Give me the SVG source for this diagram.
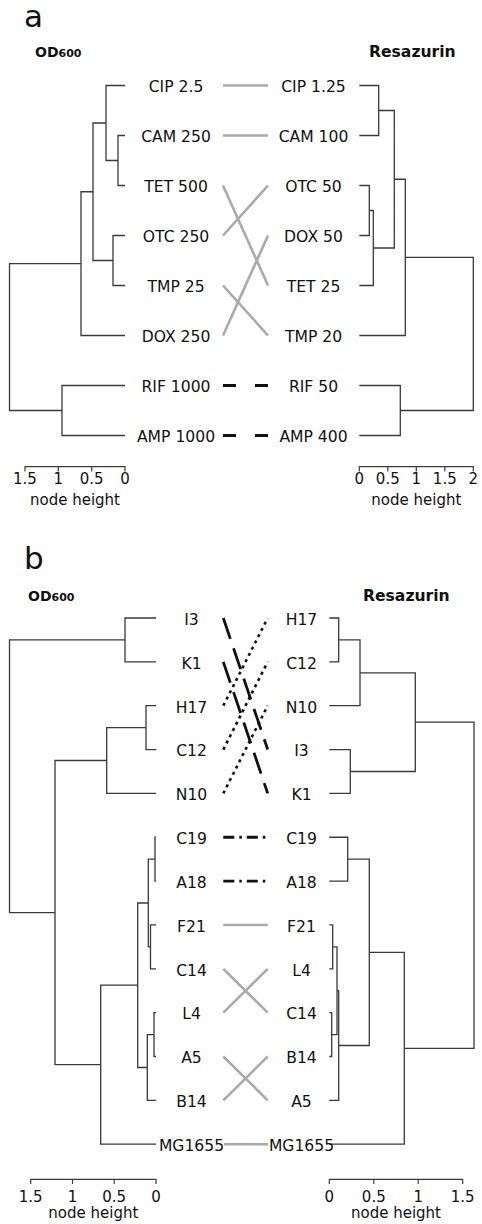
<svg xmlns="http://www.w3.org/2000/svg" width="482" height="1224" viewBox="0 0 482 1224">
  <style>
    text { font-family: "DejaVu Sans", "Liberation Sans", sans-serif; fill: #111; }
    .lab { font-size: 15.6px; text-anchor: middle; }
    .tick { font-size: 15px; text-anchor: middle; }
    .panel { font-size: 31px; }
    .ttl { font-weight: bold; }
    .tree { fill: none; stroke: #3a3a3a; stroke-width: 1.3; }
    .axis { fill: none; stroke: #3a3a3a; stroke-width: 1.2; }
    .grey { stroke: #aaaaaa; stroke-width: 2.6; fill: none; }
    .dash { stroke: #111; stroke-width: 3; fill: none; stroke-dasharray: 13 19; }
    .ldash { stroke: #111; stroke-width: 2.8; fill: none; stroke-dasharray: 22 10; }
    .dot { stroke: #111; stroke-width: 2.6; fill: none; stroke-dasharray: 3 4; }
    .dotdash { stroke: #111; stroke-width: 2.8; fill: none; stroke-dasharray: 11 5 2.5 5; }
  </style>

  <!-- panel a -->
  <g id="panel-a-title">
    <text class="panel" x="24" y="27">a</text>
    <text class="ttl" x="35" y="57" font-size="14">OD<tspan font-size="11">600</tspan></text>
    <text class="ttl" x="369" y="57" font-size="15.6">Resazurin</text>
  </g>

  <g id="tree-a-left">
    <path class="tree" d="M125 135.5 H118 V185.5 H125 M118 160.5 H106 V85.5 H125 M106 123 H93 V260.5 H113 M125 235.5 H113 V285.5 H125 M93 191.75 H81 V335.5 H125 M81 263.6 H9.5 V410.5 H62 M125 385.5 H62 V435.5 H125"/>
  </g>
  <g id="tree-a-right">
    <path class="tree" d="M359.3 85.5 H378.7 V135.5 H359.3 M359.3 185.5 H369.3 V235.5 H359.3 M369.3 210.5 H373.3 V285.5 H359.3 M378.7 110.5 H394.3 V248 H373.3 M394.3 179.25 H405.3 V335.5 H359.3 M359.3 385.5 H400.3 V435.5 H359.3 M405.3 257.4 H473.3 V410.5 H400.3"/>
  </g>

  <g id="labels-a-left" class="lab">
    <text x="176" y="92.3">CIP 2.5</text>
    <text x="176" y="142.3">CAM 250</text>
    <text x="176" y="192.3">TET 500</text>
    <text x="176" y="242.3">OTC 250</text>
    <text x="176" y="292.3">TMP 25</text>
    <text x="176" y="342.3">DOX 250</text>
    <text x="176" y="392.3">RIF 1000</text>
    <text x="176" y="442.3">AMP 1000</text>
  </g>
  <g id="labels-a-right" class="lab">
    <text x="313.5" y="92.3">CIP 1.25</text>
    <text x="313.5" y="142.3">CAM 100</text>
    <text x="313.5" y="192.3">OTC 50</text>
    <text x="313.5" y="242.3">DOX 50</text>
    <text x="313.5" y="292.3">TET 25</text>
    <text x="313.5" y="342.3">TMP 20</text>
    <text x="313.5" y="392.3">RIF 50</text>
    <text x="313.5" y="442.3">AMP 400</text>
  </g>

  <g id="connectors-a">
    <line class="grey" x1="223" y1="85.5" x2="268" y2="85.5"/>
    <line class="grey" x1="223" y1="135.5" x2="268" y2="135.5"/>
    <line class="grey" x1="223" y1="185.5" x2="268" y2="285.5"/>
    <line class="grey" x1="223" y1="235.5" x2="268" y2="185.5"/>
    <line class="grey" x1="223" y1="285.5" x2="268" y2="335.5"/>
    <line class="grey" x1="223" y1="335.5" x2="268" y2="235.5"/>
    <line class="dash" x1="223" y1="385.5" x2="268" y2="385.5"/>
    <line class="dash" x1="223" y1="435.5" x2="268" y2="435.5"/>
  </g>

  <g id="axis-a-left">
    <path class="axis" d="M25 471.5 V466.7 H125 V471.5 M58.3 466.7 V471.5 M91.7 466.7 V471.5"/>
    <g class="tick">
      <text x="25" y="484">1.5</text>
      <text x="58.3" y="484">1</text>
      <text x="91.7" y="484">0.5</text>
      <text x="125" y="484">0</text>
      <text x="75" y="505">node height</text>
    </g>
  </g>
  <g id="axis-a-right">
    <path class="axis" d="M359.3 471.5 V466.7 H473.3 V471.5 M387.8 466.7 V471.5 M416.3 466.7 V471.5 M444.8 466.7 V471.5"/>
    <g class="tick">
      <text x="359.3" y="484">0</text>
      <text x="387.8" y="484">0.5</text>
      <text x="416.3" y="484">1</text>
      <text x="444.8" y="484">1.5</text>
      <text x="473.3" y="484">2</text>
      <text x="416.3" y="505">node height</text>
    </g>
  </g>

  <!-- panel b -->
  <g id="panel-b-title">
    <text class="panel" x="24" y="569">b</text>
    <text class="ttl" x="28" y="601" font-size="14">OD<tspan font-size="11">600</tspan></text>
    <text class="ttl" x="363" y="601" font-size="15.6">Resazurin</text>
  </g>

  <g id="tree-b-left">
    <path class="tree" d="M156 618 H125 V661.85 H156 M156 705.7 H146 V749.55 H156 M146 727.6 H106.7 V793.4 H156 M156 837.25 H155 V881.1 H156 M156 924.95 H150.5 V968.8 H156 M155 859.2 H148.3 V946.9 H150.5 M156 1012.65 H154 V1056.5 H156 M154 1034.6 H147.3 V1100.35 H156 M148.3 903 H137.7 V1067.5 H147.3 M137.7 985.2 H100.7 V1144.2 H156 M106.7 760.5 H55 V1064.7 H100.7 M125 639.9 H9.5 V912.6 H55"/>
  </g>
  <g id="tree-b-right">
    <path class="tree" d="M329.3 618 H338.7 V661.85 H329.3 M338.7 639.9 H360 V705.7 H329.3 M329.3 749.55 H350.3 V793.4 H329.3 M360 672.8 H415.3 V771.5 H350.3 M329.3 837.25 H347.7 V881.1 H329.3 M329.3 924.95 H332.7 V968.8 H329.3 M329.3 1012.65 H331.7 V1056.5 H329.3 M332.7 946.9 H337 V1034.6 H331.7 M337 990.7 H338.7 V1100.35 H329.3 M347.7 859.2 H369.3 V1045.5 H338.7 M369.3 952.4 H404.3 V1144.2 H329.3 M415.3 722.1 H474 V1048.3 H404.3"/>
  </g>

  <g id="connectors-b">
    <line class="ldash" x1="223.3" y1="618" x2="267.7" y2="749.55"/>
    <line class="ldash" x1="223.3" y1="661.85" x2="267.7" y2="793.4"/>
    <line class="dot" x1="223.3" y1="705.7" x2="267.7" y2="618"/>
    <line class="dot" x1="223.3" y1="749.55" x2="267.7" y2="661.85"/>
    <line class="dot" x1="223.3" y1="793.4" x2="267.7" y2="705.7"/>
    <line class="dotdash" x1="223.3" y1="837.25" x2="267.7" y2="837.25"/>
    <line class="dotdash" x1="223.3" y1="881.1" x2="267.7" y2="881.1"/>
    <line class="grey" x1="223.3" y1="924.95" x2="267.7" y2="924.95"/>
    <line class="grey" x1="223.3" y1="968.8" x2="267.7" y2="1012.65"/>
    <line class="grey" x1="223.3" y1="1012.65" x2="267.7" y2="968.8"/>
    <line class="grey" x1="223.3" y1="1056.5" x2="267.7" y2="1100.35"/>
    <line class="grey" x1="223.3" y1="1100.35" x2="267.7" y2="1056.5"/>
    <line class="grey" x1="224" y1="1144.2" x2="268" y2="1144.2"/>
  </g>

  <g id="labels-b-left" class="lab">
    <text x="191.5" y="624.8">I3</text>
    <text x="191.5" y="668.6">K1</text>
    <text x="191.5" y="712.5">H17</text>
    <text x="191.5" y="756.3">C12</text>
    <text x="191.5" y="800.2">N10</text>
    <text x="191.5" y="844">C19</text>
    <text x="191.5" y="887.9">A18</text>
    <text x="191.5" y="931.7">F21</text>
    <text x="191.5" y="975.6">C14</text>
    <text x="191.5" y="1019.4">L4</text>
    <text x="191.5" y="1063.3">A5</text>
    <text x="191.5" y="1107.1">B14</text>
    <text x="191.5" y="1151">MG1655</text>
  </g>
  <g id="labels-b-right" class="lab">
    <text x="301.5" y="624.8">H17</text>
    <text x="301.5" y="668.6">C12</text>
    <text x="301.5" y="712.5">N10</text>
    <text x="301.5" y="756.3">I3</text>
    <text x="301.5" y="800.2">K1</text>
    <text x="301.5" y="844">C19</text>
    <text x="301.5" y="887.9">A18</text>
    <text x="301.5" y="931.7">F21</text>
    <text x="301.5" y="975.6">L4</text>
    <text x="301.5" y="1019.4">C14</text>
    <text x="301.5" y="1063.3">B14</text>
    <text x="301.5" y="1107.1">A5</text>
    <text x="301.5" y="1151">MG1655</text>
  </g>

  <g id="axis-b-left">
    <path class="axis" d="M30.7 1184 V1179.3 H156 V1184 M72.5 1179.3 V1184 M114.2 1179.3 V1184"/>
    <g class="tick">
      <text x="30.7" y="1201.5">1.5</text>
      <text x="72.5" y="1201.5">1</text>
      <text x="114.2" y="1201.5">0.5</text>
      <text x="156" y="1201.5">0</text>
      <text x="93.3" y="1218">node height</text>
    </g>
  </g>
  <g id="axis-b-right">
    <path class="axis" d="M329.3 1184 V1179.3 H462.7 V1184 M373.8 1179.3 V1184 M418.2 1179.3 V1184"/>
    <g class="tick">
      <text x="329.3" y="1201.5">0</text>
      <text x="373.8" y="1201.5">0.5</text>
      <text x="418.2" y="1201.5">1</text>
      <text x="462.7" y="1201.5">1.5</text>
      <text x="396" y="1218">node height</text>
    </g>
  </g>
</svg>
